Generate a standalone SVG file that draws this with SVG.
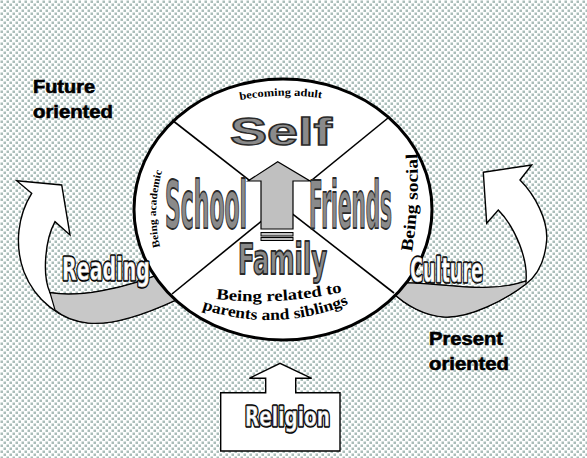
<svg xmlns="http://www.w3.org/2000/svg" width="587" height="458" viewBox="0 0 587 458">
<defs>
<pattern id="dots" width="6" height="6" patternUnits="userSpaceOnUse">
<rect width="6" height="6" fill="#ffffff"/>
<rect x="0.5" y="0.5" width="2.5" height="2.5" fill="#aabdb9"/>
<rect x="3.5" y="3.5" width="2.5" height="2.5" fill="#aabdb9"/>
</pattern>
<path id="pAdult" d="M 240 100 Q 283 92 327 99"/>
<path id="pRel" d="M 216 299 Q 282 306 347 291"/>
<path id="pPar" d="M 202 309 Q 278 334 354 302"/>
<path id="pAcad" d="M 160 247 Q 151 208 163 168"/>
<path id="pSoc" d="M 412 252 Q 420 205 417 151"/>
</defs>
<style>
.ribbon{fill:#ffffff;stroke:#000;stroke-width:1.4;stroke-linejoin:miter}
.band{fill:#c8c8c8;stroke:#000;stroke-width:1.2}
.big{font-family:"Liberation Sans Narrow","DejaVu Sans Condensed","Liberation Sans",sans-serif;font-weight:bold;fill:#8a8a8a;stroke:#2a2a2a;stroke-width:1.8;stroke-linejoin:round}
.self{font-family:"Liberation Sans",Arial,sans-serif;font-weight:bold;fill:#8a8a8a;stroke:#2a2a2a;stroke-width:1.4}
.ol{font-family:"Liberation Sans Narrow","DejaVu Sans Condensed","Liberation Sans",sans-serif;font-weight:bold}
.olb{fill:#000;stroke:#000;stroke-width:3.6;stroke-linejoin:round}
.olw{fill:#ffffff;stroke:#9a9a9a;stroke-width:0.6}
.small{font-family:"Liberation Serif","DejaVu Serif",serif;font-weight:bold;fill:#000}
.note{font-family:"Liberation Sans",Arial,sans-serif;font-weight:bold;font-size:18px;fill:#000;stroke:#000;stroke-width:0.6}
.line{stroke:#000;stroke-width:1.6;fill:none}
</style>
<rect width="587" height="458" fill="url(#dots)"/>

<g id="connectors">
<path class="ribbon" d="M 16.7 180.7 L 61.7 185 L 70 235 L 55 221.7 C 45 240, 42 275, 50 292.7 C 75 297, 120 292, 175 268 L 176 300 C 150 312, 115 326, 88 323 C 60 320, 35 300, 24 272 C 14 245, 18 215, 31.7 193.3 Z"/>
<path class="band" d="M 50 292.7 C 75 297, 120 292, 175 268 L 176 300 C 150 312, 115 326, 88 323 C 72 321, 62 316, 55 310 Z"/>
<path class="ribbon" d="M 483.3 172.3 L 531.7 165 L 520 180 C 535 195, 548 220, 546.7 240 C 545 262, 538 275, 526 284 C 505 300, 470 318, 445 317 C 425 316, 405 305, 392 292 L 390 283 C 430 280, 485 296, 526 281 C 528 260, 516 228, 498.3 210 L 486.7 223.3 Z"/>
<path class="band" d="M 390 283 C 430 280, 485 296, 526 281 L 526 284 C 505 300, 470 318, 445 317 C 425 316, 405 305, 392 292 Z"/>
</g>

<g id="node-circle">
<ellipse cx="283" cy="209.5" rx="149" ry="130.5" fill="#ffffff" stroke="#000" stroke-width="3"/>
<line class="line" x1="172" y1="120" x2="394" y2="293"/>
<line class="line" x1="388" y1="118" x2="172" y2="294"/>
</g>

<g id="node-arrow">
<rect x="248" y="181" width="62" height="16" fill="#ffffff"/>
<path d="M 261 229 L 261 181 L 248 181 L 277.7 161.7 L 310 181 L 293 181 L 293 229 Z" fill="#c0c0c0" stroke="#000" stroke-width="1.2"/>
<rect x="261" y="232.5" width="32" height="3.5" fill="#c0c0c0" stroke="#000" stroke-width="1"/>
<rect x="261" y="237.5" width="32" height="3" fill="#c0c0c0" stroke="#000" stroke-width="1"/>
</g>

<g id="node-self">
<text class="self" x="230" y="145" font-size="39" textLength="102" lengthAdjust="spacingAndGlyphs">Self</text>
<text class="small" font-size="11"><textPath href="#pAdult" textLength="82" lengthAdjust="spacingAndGlyphs">becoming adult</textPath></text>
</g>

<g id="node-school">
<text class="big" x="165" y="228" font-size="66" textLength="82" lengthAdjust="spacingAndGlyphs">School</text>
<text class="small" font-size="10.5"><textPath href="#pAcad" textLength="77" lengthAdjust="spacingAndGlyphs">Being academic</textPath></text>
</g>

<g id="node-friends">
<text class="big" x="309" y="228" font-size="66" textLength="83" lengthAdjust="spacingAndGlyphs">Friends</text>
<text class="small" font-size="17"><textPath href="#pSoc" textLength="99" lengthAdjust="spacingAndGlyphs">Being social</textPath></text>
</g>

<g id="node-family">
<text class="big" x="238" y="274" font-size="43" textLength="89" lengthAdjust="spacingAndGlyphs">Family</text>
<text class="small" font-size="15.5"><textPath href="#pRel" textLength="127" lengthAdjust="spacingAndGlyphs">Being related to</textPath></text>
<text class="small" font-size="15.5"><textPath href="#pPar" textLength="150" lengthAdjust="spacingAndGlyphs">parents and siblings</textPath></text>
</g>

<g id="node-reading">
<text class="ol olb" x="62" y="280" font-size="32" textLength="88" lengthAdjust="spacingAndGlyphs">Reading</text>
<text class="ol olw" x="62" y="280" font-size="32" textLength="88" lengthAdjust="spacingAndGlyphs">Reading</text>
</g>

<g id="node-culture">
<text class="ol olb" x="410" y="282" font-size="34" textLength="73" lengthAdjust="spacingAndGlyphs">Culture</text>
<text class="ol olw" x="410" y="282" font-size="34" textLength="73" lengthAdjust="spacingAndGlyphs">Culture</text>
</g>

<g id="node-religion">
<path d="M 220.7 392.7 L 265.7 392.7 L 265.7 378.3 L 249.3 378.3 L 280 363.3 L 311.7 378.3 L 295.7 378.3 L 295.7 392.7 L 340 392.7 L 340 451 L 220.7 451 Z" fill="#ffffff" stroke="#000" stroke-width="1.4"/>
<text class="ol olb" x="245" y="426" font-size="27" textLength="85" lengthAdjust="spacingAndGlyphs">Religion</text>
<text class="ol olw" x="245" y="426" font-size="27" textLength="85" lengthAdjust="spacingAndGlyphs">Religion</text>
</g>

<g id="node-future">
<text class="note" x="33" y="93" textLength="62" lengthAdjust="spacingAndGlyphs">Future</text>
<text class="note" x="33" y="118" textLength="80" lengthAdjust="spacingAndGlyphs">oriented</text>
</g>

<g id="node-present">
<text class="note" x="429" y="345" textLength="74" lengthAdjust="spacingAndGlyphs">Present</text>
<text class="note" x="429" y="370" textLength="80" lengthAdjust="spacingAndGlyphs">oriented</text>
</g>
</svg>
